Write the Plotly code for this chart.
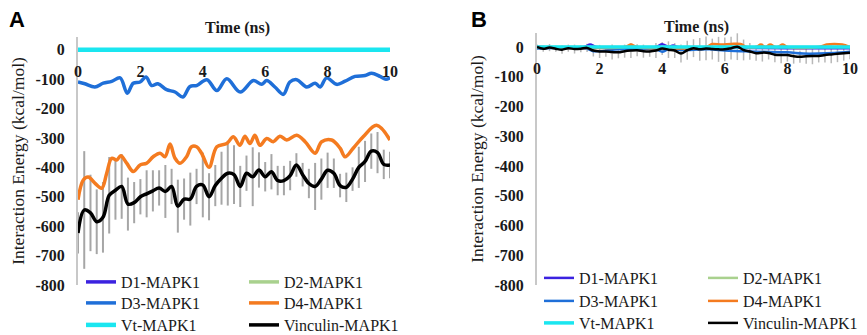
import plotly.graph_objects as go

# ---------------- data ----------------
SERIES = ["D1-MAPK1", "D2-MAPK1", "D3-MAPK1", "D4-MAPK1", "Vt-MAPK1", "Vinculin-MAPK1"]
COLORS = {"D1-MAPK1": "#3B22E0", "D2-MAPK1": "#A9D18E", "D3-MAPK1": "#1F6FD8",
          "D4-MAPK1": "#F47B20", "Vt-MAPK1": "#1AE6F0", "Vinculin-MAPK1": "#000000"}

x_ticks = [0, 2, 4, 6, 8, 10]
x_tick_text = ["0", "2", "4", "6", "8", "10"]
y_ticks = [0, -100, -200, -300, -400, -500, -600, -700, -800]
y_tick_text = ["0", "-100", "-200", "-300", "-400", "-500", "-600", "-700", "-800"]

time_grid = [0.0, 0.2, 0.4, 0.6, 0.8, 1.0, 1.2, 1.4, 1.6, 1.8, 2.0, 2.2, 2.4, 2.6, 2.8,
             3.0, 3.2, 3.4, 3.6, 3.8, 4.0, 4.2, 4.4, 4.6, 4.8, 5.0, 5.2, 5.4, 5.6, 5.8,
             6.0, 6.2, 6.4, 6.6, 6.8, 7.0, 7.2, 7.4, 7.6, 7.8, 8.0, 8.2, 8.4, 8.6, 8.8,
             9.0, 9.2, 9.4, 9.6, 9.8, 10.0]

# Panel A
a_flat_t = [0, 10]
a_d1 = [0, 0]
a_d2 = [0, 0]
a_vt = [0, 0]

a_d3_t = [0.0, 0.22, 0.54, 0.81, 1.08, 1.35, 1.58, 1.77, 1.99, 2.18, 2.36, 2.56, 2.84,
          3.11, 3.36, 3.59, 3.80, 4.13, 4.45, 4.77, 5.2, 5.62, 5.89, 6.05, 6.31, 6.58,
          6.79, 7.01, 7.33, 7.60, 7.76, 7.97, 8.29, 8.56, 8.88, 9.20, 9.41, 9.68, 9.87, 10.0]
a_d3 = [-110, -116, -127, -114, -108, -96, -148, -114, -110, -93, -122, -116, -136,
        -144, -161, -125, -122, -102, -139, -99, -144, -105, -118, -105, -127, -152,
        -110, -102, -127, -114, -127, -96, -118, -107, -91, -88, -80, -91, -101, -95]

a_d4_t = [0.0, 0.17, 0.33, 0.54, 0.76, 0.92, 1.08, 1.24, 1.37, 1.56, 1.77, 1.99, 2.20,
          2.41, 2.63, 2.79, 2.95, 3.11, 3.27, 3.48, 3.64, 3.80, 3.96, 4.2, 4.45, 4.77,
          4.98, 5.19, 5.35, 5.51, 5.67, 5.83, 6.05, 6.26, 6.47, 6.69, 7.01, 7.28, 7.6,
          7.81, 8.13, 8.40, 8.56, 8.82, 9.14, 9.57, 10.0]
a_d4 = [-510, -443, -433, -454, -471, -420, -369, -375, -361, -386, -414, -392, -386,
        -364, -352, -364, -321, -369, -386, -364, -330, -330, -352, -400, -330, -319,
        -296, -325, -294, -319, -291, -325, -302, -313, -294, -307, -291, -313, -352,
        -313, -307, -335, -364, -335, -296, -257, -307]

a_vinc = [-623, -545, -555, -585, -570, -495, -478, -465, -525, -520, -500, -490, -480,
          -470, -482, -465, -532, -508, -508, -465, -460, -500, -462, -437, -420, -425,
          -465, -420, -432, -409, -432, -415, -445, -445, -428, -392, -425, -455, -465,
          -440, -410, -420, -462, -468, -440, -400, -380, -345, -350, -390, -392]
a_vinc_err = [70, 200, 130, 110, 120, 130, 100, 110, 90, 70, 60, 80, 70, 60, 90, 60,
              90, 70, 90, 60, 110, 80, 70, 90, 110, 100, 70, 60, 100, 60, 50, 60, 50,
              50, 50, 40, 40, 50, 80, 70, 60, 50, 40, 50, 40, 70, 70, 60, 70, 50, 45]

# Panel B
b_flat_t = [0, 10]
b_d2 = [0, 0]
b_vt = [0, 0]
b_d1_t = [0, 1.5, 1.7, 1.9, 3.8, 4.0, 4.2, 4.35, 4.5, 6.0, 8.0, 9.0, 10.0]
b_d1 = [0, 0, 8, 0, 0, 9, 0, 5, 0, -2, -4, -4, -4]
b_d3_t = [0, 1.6, 1.8, 2.2, 2.6, 3.8, 4.0, 4.2, 4.6, 5.5, 6.0, 6.5, 7.0, 8.0, 8.5, 9.0, 9.5, 10.0]
b_d3 = [-5, -6, -14, -12, -8, -8, -16, -8, -10, -8, -12, -14, -16, -18, -22, -22, -20, -16]
b_d4_t = [0, 2.8, 3.0, 3.2, 5.4, 5.6, 5.9, 6.2, 6.5, 6.7, 7.0, 7.15, 7.3, 7.45, 7.6, 7.7,
          7.85, 8.0, 9.0, 9.25, 9.5, 9.75, 10.0]
b_d4 = [0, 0, 8, 0, 0, 10, 8, 10, 10, 0, 0, 8, 0, 8, 0, 0, 8, 0, 0, 8, 10, 8, 0]
b_vinc = [0, -6, -2, -6, -9, -4, -7, -6, -3, -12, -15, -15, -17, -18, -14, -12, -11,
          -14, -15, -12, -5, -9, -12, -22, -11, -4, -8, -5, -7, -8, -8, -4, 1, -10, -15,
          -21, -19, -20, -26, -27, -27, -31, -33, -31, -30, -30, -27, -25, -23, -21, -19]
b_vinc_err = [8, 10, 12, 10, 14, 12, 15, 12, 14, 20, 22, 18, 25, 20, 22, 25, 20, 22, 18,
              25, 22, 28, 25, 30, 32, 30, 38, 40, 35, 42, 40, 38, 45, 35, 28, 25, 30, 22,
              25, 28, 22, 25, 20, 25, 28, 22, 25, 30, 28, 25, 22]

# ---------------- layout geometry ----------------
W, H = 867, 335
A_XDOM = [78 / W, 390 / W]
B_XDOM = [537 / W, 850 / W]
A_YDOM = [(H - 285) / H, (H - 37) / H]
B_YDOM = [(H - 285) / H, (H - 33) / H]
A_YRANGE = [-800, 43]
B_YRANGE = [-800, 47]

# legend slot pixel positions (left x of the item, centre y of the row)
A_LEG_X = [81, 244]
A_LEG_Y = [282, 303, 325]
B_LEG_X = [539, 703]
B_LEG_Y = [278, 301, 323]


def zero_pos(dom, rng):
    return dom[0] + (0 - rng[0]) / (rng[1] - rng[0]) * (dom[1] - dom[0])


SERIF = "Liberation Serif"
fig = go.Figure()

# error bars first so lines are drawn over them
fig.add_trace(go.Scatter(x=time_grid, y=a_vinc, mode="markers", xaxis="x", yaxis="y",
                         marker=dict(size=1, opacity=0), showlegend=False, hoverinfo="skip",
                         error_y=dict(type="data", array=a_vinc_err, color="#A6A6A6",
                                      thickness=2, width=0)))
fig.add_trace(go.Scatter(x=time_grid, y=b_vinc, mode="markers", xaxis="x2", yaxis="y2",
                         marker=dict(size=1, opacity=0), showlegend=False, hoverinfo="skip",
                         error_y=dict(type="data", array=b_vinc_err, color="#B8B8B8",
                                      thickness=1.5, width=0)))

legfont = dict(family=SERIF, size=16, color="#1a1a1a")
legends = {}
panels = [
    ("x", "y", A_LEG_X, A_LEG_Y, 3.5, 4.5,
     [(a_flat_t, a_d1), (a_flat_t, a_d2), (a_d3_t, a_d3), (a_d4_t, a_d4),
      (a_flat_t, a_vt), (time_grid, a_vinc)]),
    ("x2", "y2", B_LEG_X, B_LEG_Y, 2.5, 3.5,
     [(b_d1_t, b_d1), (b_flat_t, b_d2), (b_d3_t, b_d3), (b_d4_t, b_d4),
      (b_flat_t, b_vt), (time_grid, b_vinc)]),
]
k = 0
for xa, ya, lxs, lys, lw, cyan_w, data in panels:
    for i, (name, (xs, ys)) in enumerate(zip(SERIES, data)):
        k += 1
        lid = "legend" if k == 1 else f"legend{k}"
        legends[lid] = dict(x=lxs[i % 2] / W, y=(H - lys[i // 2]) / H, xanchor="left",
                            yanchor="middle", orientation="v", font=legfont,
                            bgcolor="rgba(0,0,0,0)", itemwidth=30)
        w = cyan_w if name == "Vt-MAPK1" else lw
        fig.add_trace(go.Scatter(x=xs, y=ys, name=name, mode="lines", xaxis=xa, yaxis=ya,
                                 legend=lid, line=dict(color=COLORS[name], width=w,
                                                       shape="spline", smoothing=1)))

tickfont = dict(family=SERIF, size=16, color="#1a1a1a", weight="bold")
xcommon = dict(range=[0, 10], tickvals=x_ticks, ticktext=x_tick_text, showgrid=False,
               zeroline=False, showline=False, ticks="", tickfont=tickfont,
               ticklabelstandoff=10, anchor="free", automargin=False)
ycommon = dict(tickvals=y_ticks, ticktext=y_tick_text, showgrid=False, zeroline=False,
               showline=True, linecolor="#C8C8C8", linewidth=2, ticks="",
               tickfont=tickfont, ticklabelstandoff=8, automargin=False)
ytitle = dict(text="Interaction Energy (kcal/mol)",
              font=dict(family=SERIF, size=17.5, color="#1a1a1a"), standoff=6)

boldserif = dict(family=SERIF, size=16, color="#1a1a1a", weight="bold")
fig.update_layout(
    width=W, height=H, margin=dict(l=0, r=0, t=0, b=0, autoexpand=False),
    paper_bgcolor="white", plot_bgcolor="white",
    xaxis=dict(domain=A_XDOM, position=zero_pos(A_YDOM, A_YRANGE), **xcommon),
    yaxis=dict(domain=A_YDOM, range=A_YRANGE, anchor="x", title=ytitle, **ycommon),
    xaxis2=dict(domain=B_XDOM, position=zero_pos(B_YDOM, B_YRANGE), **xcommon),
    yaxis2=dict(domain=B_YDOM, range=B_YRANGE, anchor="x2", title=ytitle, **ycommon),
    annotations=[
        dict(text="Time (ns)", x=sum(A_XDOM) / 2 + 3 / W, y=(H - 28) / H, xref="paper",
             yref="paper", xanchor="center", yanchor="middle", showarrow=False, font=boldserif),
        dict(text="Time (ns)", x=sum(B_XDOM) / 2 + 3 / W, y=(H - 27) / H, xref="paper",
             yref="paper", xanchor="center", yanchor="middle", showarrow=False, font=boldserif),
        dict(text="A", x=17 / W, y=(H - 20) / H, xref="paper", yref="paper", showarrow=False,
             xanchor="center", yanchor="middle",
             font=dict(family="Liberation Sans", size=22, color="black", weight="bold")),
        dict(text="B", x=479 / W, y=(H - 20) / H, xref="paper", yref="paper", showarrow=False,
             xanchor="center", yanchor="middle",
             font=dict(family="Liberation Sans", size=22, color="black", weight="bold")),
    ],
)
fig.update_layout(**legends)

fig.write_html("out.html", config={"displayModeBar": False},
               post_script="document.body.style.margin='0';document.body.style.overflow='hidden';")
